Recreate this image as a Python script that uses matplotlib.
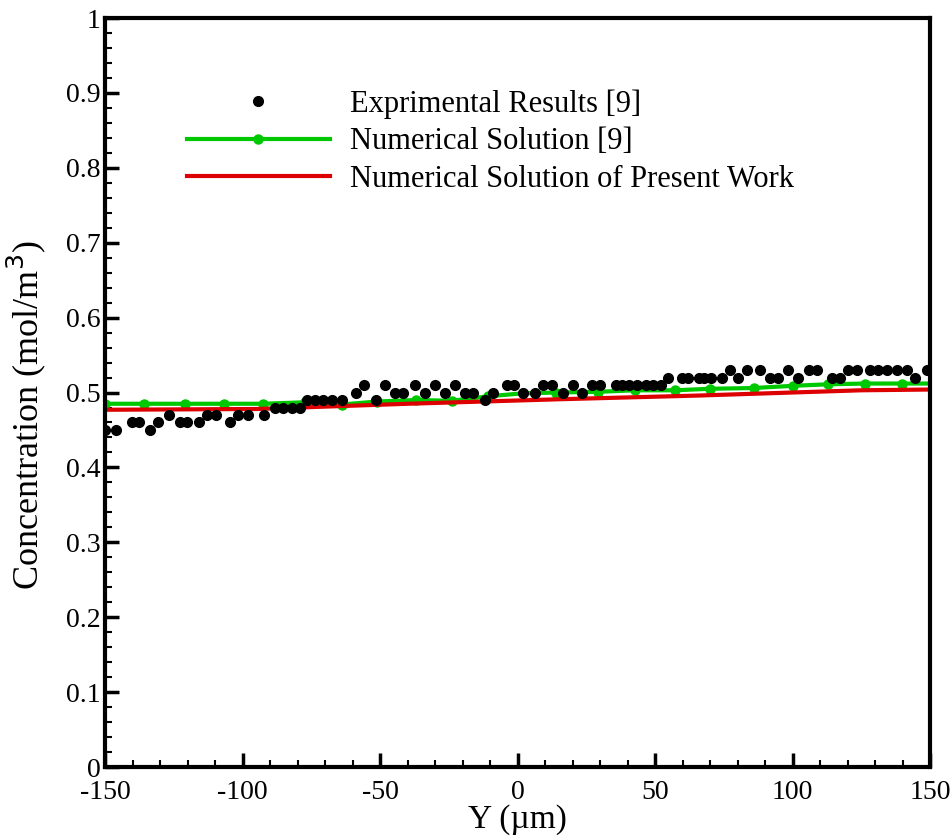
#!/usr/bin/env python3
"""Concentration profile across the channel: experiment vs. two numerical solutions."""

import matplotlib
matplotlib.use("Agg")
import matplotlib.pyplot as plt
from matplotlib.ticker import MultipleLocator


# experimental results [9]
exp_y = [-150, -146, -140.3, -137.5, -133.6, -130.6, -126.7, -122.7, -120.1, -115.8,
         -112.8, -109.8, -104.5, -101.7, -97.9, -92.2, -88.2, -85.2, -82.1, -79.1,
         -76.7, -73.6, -70.6, -67.6, -63.9, -58.8, -55.8, -51.5, -48.2, -44.5,
         -41.5, -37.3, -33.6, -30, -26.4, -22.7, -19.1, -16.1, -11.8, -8.8,
         -4, -1.4, 2.1, 6.4, 9.4, 12.4, 16.4, 20.3, 23.6, 27.2,
         30, 35.7, 37.9, 40.6, 43.6, 46.6, 49.4, 52.1, 54.8, 59.7,
         62.1, 65.8, 67.8, 70.5, 74.2, 77.3, 80.3, 83.3, 88.2, 91.8,
         94.8, 98.5, 102.1, 106, 109, 114.2, 117.3, 120.3, 123.6, 128.2,
         131.2, 134.3, 137.9, 141.7, 144.5, 148.8]
exp_c = [0.45, 0.45, 0.46, 0.46, 0.45, 0.46, 0.47, 0.46, 0.46, 0.46,
         0.47, 0.47, 0.46, 0.47, 0.47, 0.47, 0.48, 0.48, 0.48, 0.48,
         0.49, 0.49, 0.49, 0.49, 0.49, 0.50, 0.51, 0.49, 0.51, 0.50,
         0.50, 0.51, 0.50, 0.51, 0.50, 0.51, 0.50, 0.50, 0.49, 0.50,
         0.51, 0.51, 0.50, 0.50, 0.51, 0.51, 0.50, 0.51, 0.50, 0.51,
         0.51, 0.51, 0.51, 0.51, 0.51, 0.51, 0.51, 0.51, 0.52, 0.52,
         0.52, 0.52, 0.52, 0.52, 0.52, 0.53, 0.52, 0.53, 0.53, 0.52,
         0.52, 0.53, 0.52, 0.53, 0.53, 0.52, 0.52, 0.53, 0.53, 0.53,
         0.53, 0.53, 0.53, 0.53, 0.52, 0.53]

# numerical solution [9]
ref_y = [-150, -135.7, -120.9, -106.6, -92.4, -77.3, -63.9, -51, -37, -24,
         -10.6, 2.1, 14, 29.4, 42.7, 57.3, 70, 85.8, 100.3, 113,
         126.4, 139.7, 150]
ref_c = [0.485, 0.485, 0.485, 0.485, 0.485, 0.487, 0.484, 0.488, 0.490, 0.489,
         0.495, 0.499, 0.500, 0.501, 0.503, 0.503, 0.505, 0.506, 0.509, 0.511,
         0.512, 0.512, 0.512]

# numerical solution of present work
cur_y = [-150, -95, -40, 15, 66, 125, 150]
cur_c = [0.477, 0.478, 0.485, 0.491, 0.496, 0.503, 0.504]

plt.rcParams["font.family"] = ["Liberation Serif", "DejaVu Serif"]
plt.rcParams["axes.unicode_minus"] = False

fig = plt.figure(figsize=(9.52, 8.39), dpi=100)
ax = fig.add_axes([0.1103, 0.0858, 0.8667, 0.8927])

ax.plot(exp_y, exp_c, "o", color="black", markersize=7, linestyle="none",
        label="Exprimental Results [9]", zorder=3)
ax.plot(ref_y, ref_c, "-o", color="#00c800", linewidth=3, markersize=6.5,
        markevery=list(range(len(ref_y) - 1)), label="Numerical Solution [9]", zorder=2)
ax.plot(cur_y, cur_c, "-", color="#dc0000", linewidth=3,
        label="Numerical Solution of Present Work", zorder=2)

ax.set_xlim(-150, 150)
ax.set_ylim(0, 1)
ax.xaxis.set_major_locator(MultipleLocator(50))
ax.xaxis.set_minor_locator(MultipleLocator(10))
ax.yaxis.set_major_locator(MultipleLocator(0.1))
ax.yaxis.set_minor_locator(MultipleLocator(0.02))
ax.set_yticks([i / 10 for i in range(11)],
              ["0", "0.1", "0.2", "0.3", "0.4", "0.5", "0.6", "0.7", "0.8", "0.9", "1"])

ax.tick_params(which="both", direction="in", top=False, right=False,
               labelsize=20, width=1.5)
ax.tick_params(axis="x", pad=9)
ax.tick_params(axis="y", pad=3)
ax.tick_params(which="major", length=10, width=2.5)
ax.tick_params(which="minor", length=5)
for sp in ax.spines.values():
    sp.set_linewidth(3)

ax.set_xlabel("Y (\u00b5m)", fontsize=24)
ax.xaxis.set_label_coords(0.5, -0.049)
ax.set_ylabel("Concentration (mol/m$^3$)", fontsize=26)
ax.yaxis.set_label_coords(-0.069, 0.47)

ax.legend(loc="upper left", bbox_to_anchor=(0.099, 0.905), frameon=False,
          fontsize=22, handlelength=4.7, handletextpad=0.65, labelspacing=0.28,
          borderpad=0, borderaxespad=0)

fig.savefig("out.png", dpi=100)
